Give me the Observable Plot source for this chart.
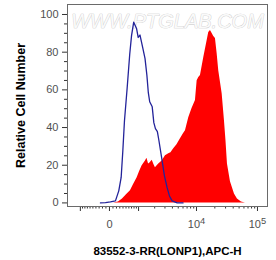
<!DOCTYPE html>
<html><head><meta charset="utf-8">
<script src="https://cdn.jsdelivr.net/npm/d3@7"></script>
<script src="https://cdn.jsdelivr.net/npm/@observablehq/plot@0.6"></script>
<style>
body{margin:0;background:#fff;}
#chart svg{font-family:"Liberation Sans",Arial,sans-serif;}
g[aria-label="y-axis label"] text, g[aria-label="x-axis label"] text{fill:#000;font-weight:bold;}
g[aria-label="y-axis label"]{font-size:12.5px;}
g[aria-label="x-axis label"]{font-size:11.5px;}
</style></head><body><div id="chart"></div>
<script>
// Control (blue outline) histogram: fluorescence value, relative count
const controlV = [-260,-114,28,171,269,342,395,448,539,632,700,786,907,982,1069,1220,1338,1450,1539,1630,1808,1931,2060,2226,2370,2688,2940,3263,3570,3960,4800,6000];
const controlN = [0,0.2,0.5,1.1,6.4,13.5,27.7,43.6,61,79,88.8,95.9,92.6,87.8,89.1,81.9,76.6,67.6,58.5,53.7,51,42.6,39.4,37.8,33,22.3,14.4,8.1,3.7,1.1,0,0];
// Stained (red filled) histogram
const stainedV = [114,260,383,515,658,776,935,1045,1178,1363,1451,1556,1662,1808,1945,2060,2206,2350,2688,3058,3473,3780,4207,4763,5440,6098,6585,7455,8415,9615,10250,10900,11620,13150,14970,15890,16950,18070,19200,20470,21810,23180,26370,28760,30450,32210,36070,41950,46940,54600,63500];
const stainedN = [0,0.5,2.1,4.3,6.4,9.6,13.3,16.5,19.7,22.3,23.7,20.7,21.3,22.6,20.2,18.6,19.7,20.7,22.3,25,26.1,26.6,28.7,30.9,34,36.7,38.3,45.2,50,54.3,64.9,66.5,67.6,77.1,86.2,90.4,91.5,89.9,88.3,87.2,79.3,70.2,58,43.6,33,20.7,11.2,4.8,2.1,0.5,0];

const labeledTicksX = [0, 10000, 100000];
const labeledTextX = ["0", "10^4", "10^5"];
const unlabeledMajorX = [-1000, 1000];
const minorTicksX = [-900,-800,-700,-600,-500,-400,-300,-200,-100,100,200,300,400,500,600,700,800,900,2000,3000,4000,5000,6000,7000,8000,9000,20000,30000,40000,50000,60000,70000,80000,90000];
const xDomainRaw = [-1750, 146000];
const ticksY = [0, 20, 40, 60, 80, 100];
const minorTicksY = [5,10,15,25,30,35,45,50,55,65,70,75,85,90,95];
const xLabel = "83552-3-RR(LONP1),APC-H";
const yLabel = "Relative Cell Number";
const watermark = "WWW.PTGLAB.COM";

// biexponential-like display transform (arcsinh)
const biex = v => Math.asinh(v / 750);

const control = controlV.map((v, i) => ({v, n: controlN[i]}));
const stained = stainedV.map((v, i) => ({v, n: stainedN[i]}));
const labelMap = new Map(labeledTicksX.map((t, i) => [biex(t), labeledTextX[i]]));

const chart = Plot.plot({
  width: 276, height: 260,
  marginLeft: 67, marginRight: 9, marginTop: 4, marginBottom: 54,
  style: {fontFamily: "Liberation Sans, Arial, sans-serif", fontSize: "11px", background: "white", overflow: "visible"},
  x: {type: "linear", domain: xDomainRaw.map(biex)},
  y: {domain: [-1.9, 105.3]},
  marks: [
    Plot.text([watermark], {frameAnchor: "top", dy: 9.5, text: d => d, fontSize: 20, fontStyle: "italic", fill: "#fafafa", stroke: "#c6c6c6", strokeWidth: 0.7}),
    Plot.areaY(stained, {x: d => biex(d.v), y: "n", fill: "#ff0000"}),
    Plot.lineY(control, {x: d => biex(d.v), y: "n", stroke: "#23239a", strokeWidth: 1.3}),
    Plot.axisY({ticks: ticksY, tickSize: 5, tickPadding: 4, fill: "#505050", stroke: "#333", label: yLabel, labelAnchor: "center", labelArrow: "none", labelOffset: 51}),
    Plot.axisY({ticks: minorTicksY, tickSize: 3, fill: "none", stroke: "#333", label: null}),
    Plot.axisX({ticks: labeledTicksX.map(biex), tickSize: 5, tickPadding: 9, fill: "#505050", stroke: "#333", tickFormat: d => labelMap.get(d), label: xLabel, labelAnchor: "center", labelArrow: "none", labelOffset: 48}),
    Plot.axisX({ticks: unlabeledMajorX.map(biex), tickSize: 5, fill: "none", stroke: "#333", label: null}),
    Plot.axisX({ticks: minorTicksX.map(biex), tickSize: 2.5, fill: "none", stroke: "#333", label: null}),
    Plot.frame({stroke: "#6a6a6a"})
  ]
});
document.getElementById("chart").appendChild(chart);

// render "10^n" tick labels with a real superscript
chart.querySelectorAll('g[aria-label="x-axis tick label"] text').forEach(t => {
  const m = /^10\^(\d)$/.exec(t.textContent);
  if (m) {
    t.textContent = "10";
    const s = document.createElementNS("http://www.w3.org/2000/svg", "tspan");
    s.setAttribute("dy", "-0.5em");
    s.setAttribute("font-size", "0.85em");
    s.textContent = m[1];
    t.appendChild(s);
  }
});
</script></body></html>
